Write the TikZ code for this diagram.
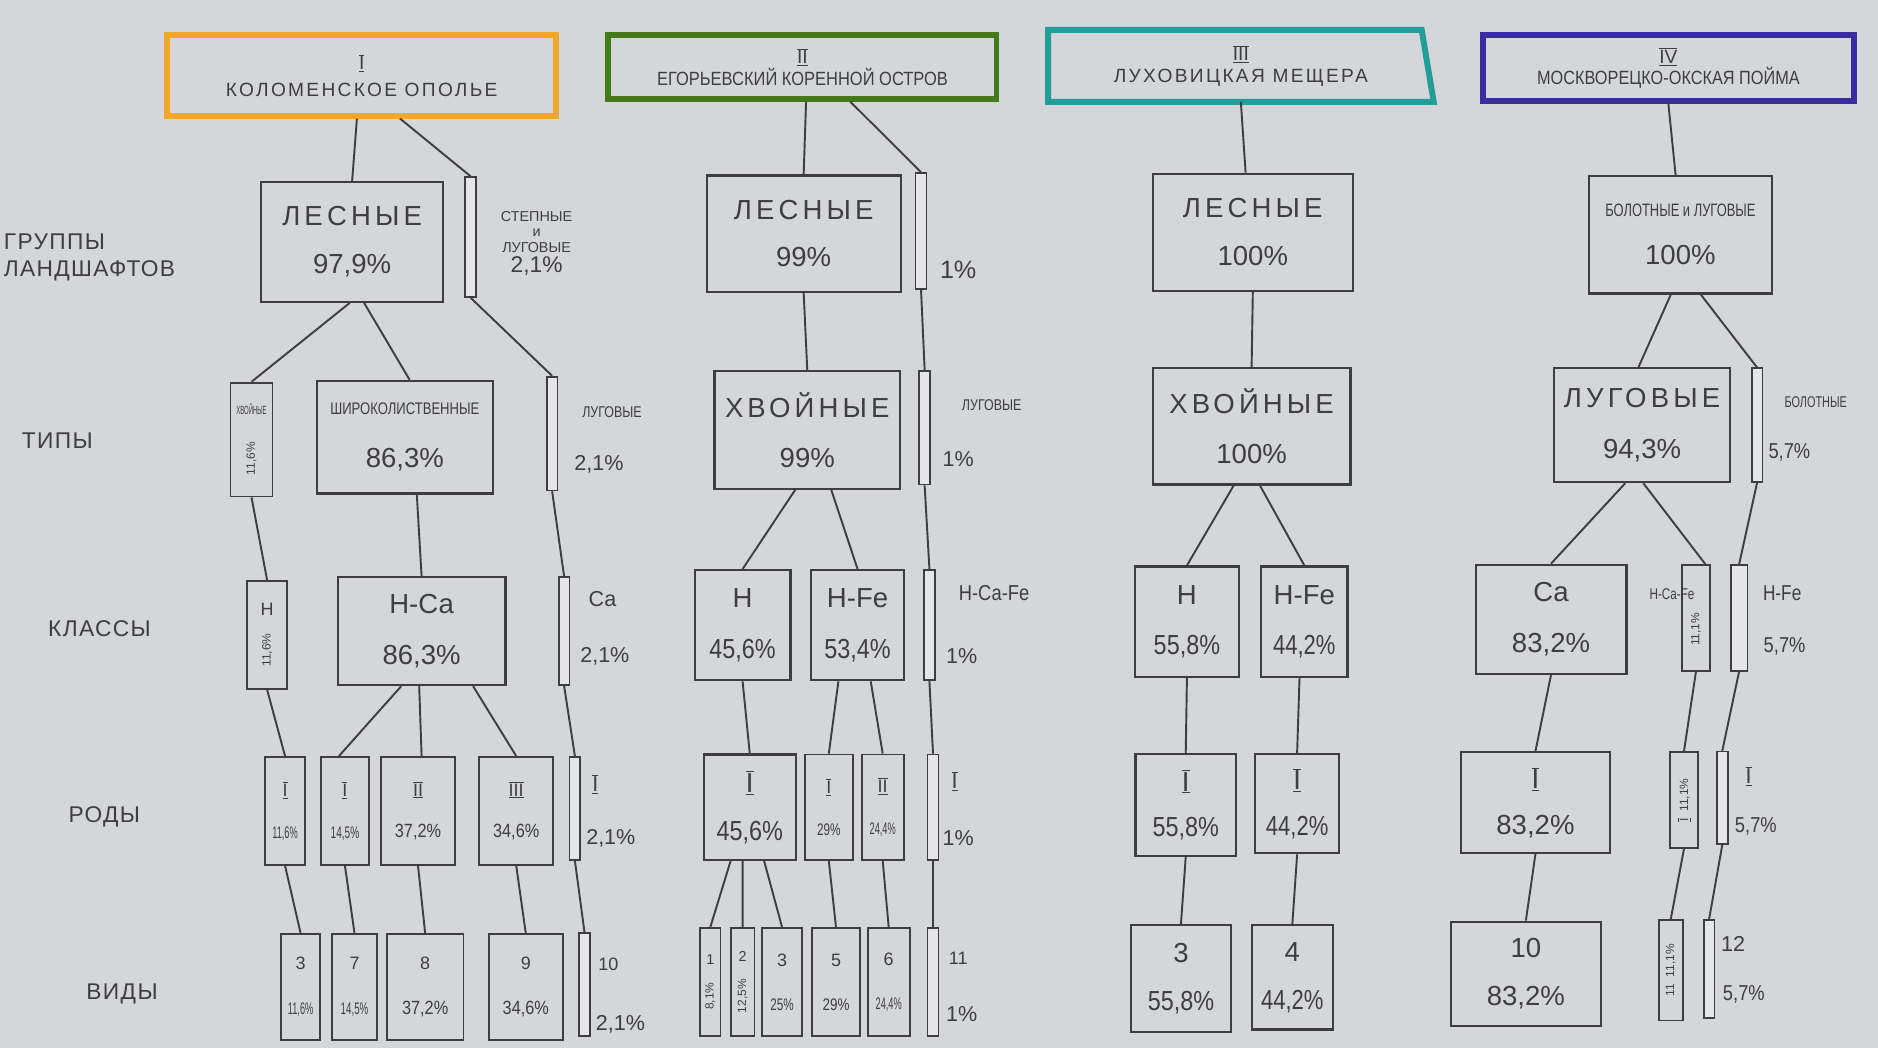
\documentclass[tikz,border=0pt]{standalone}
\usepackage{fontspec}
\setmainfont{Liberation Sans}
\usepackage{graphicx}
\definecolor{paper}{RGB}{213,214,217}
\definecolor{ink}{RGB}{62,62,66}
\definecolor{hOrange}{RGB}{242,166,42}
\definecolor{hGreen}{RGB}{66,122,28}
\definecolor{hTeal}{RGB}{34,158,152}
\definecolor{hBlue}{RGB}{56,44,160}
\newcommand\rim[1]{$\overline{\underline{\mbox{#1}}}$}
\newcommand\vtxt[1]{\rotatebox{90}{\fontsize{10}{11}\selectfont #1}}
\newcommand\spaced{\addfontfeature{LetterSpace=15}}
\newcommand\fsz[1]{\fontsize{#1}{#1}\selectfont}
\newcommand\sq[2]{\scalebox{#1}[1]{#2}}
\begin{document}
\begin{tikzpicture}[x=1pt, y=-1pt,
    box/.style={draw=ink, line width=1.8pt, inner sep=0pt, align=center, text=ink, font=\fontsize{23}{26}\selectfont},
    narrow/.style={draw=ink, line width=1.5pt, inner sep=0pt, align=center, text=ink, font=\fontsize{15}{17}\selectfont},
    bar/.style={draw=ink, line width=1.4pt, fill=paper!60!white, inner sep=0pt, minimum width=9pt},
    hdr/.style={line width=5pt, inner sep=0pt, align=center, text=ink, font=\fontsize{16}{18}\selectfont},
    lbl/.style={text=ink, inner sep=0pt, align=center, font=\fontsize{18}{20}\selectfont},
    row/.style={text=ink, anchor=west, align=left, inner sep=0pt, font=\fontsize{19}{23}\selectfont\addfontfeature{LetterSpace=6}},
    link/.style={draw=ink, line width=1.6pt}
]
\fill[paper] (0,0) rectangle (1568,875);

% row names
\node[row] (rgr) at (3,215) {ГРУППЫ\\ЛАНДШАФТОВ};
\node[row] (rti) at (18,368) {ТИПЫ};
\node[row] (rkl) at (40,525) {КЛАССЫ};
\node[row] (rro) at (57,682) {РОДЫ};
\node[row] (rvi) at (72,830) {ВИДЫ};

% I: Коломенское ополье
\node[hdr, draw=hOrange, minimum width=325pt, minimum height=67pt] (h1) at (302,63) {\rim{I}\\[4pt]{\addfontfeature{LetterSpace=12}КОЛОМЕНСКОЕ ОПОЛЬЕ}};
\node[box, minimum width=152pt, minimum height=100pt] (les1) at (294,202) {{\spaced ЛЕСНЫЕ}\\[14pt]97,9\%};
\node[bar, minimum height=100pt] (st1) at (393,198) {};
\node[lbl, font=\fontsize{12}{13}\selectfont] (st1t) at (448,203) {СТЕПНЫЕ\\и\\ЛУГОВЫЕ\\[2pt]{\fsz{19}2,1\%}};
\node[narrow, minimum width=35pt, minimum height=95pt] (xv1) at (210,367) {{\fsz{10}\sq{0.5}{ХВОЙНЫЕ}}\\[22pt]\vtxt{11,6\%}};
\node[box, minimum width=147pt, minimum height=94pt] (sh1) at (338,365) {{\fsz{14}\sq{0.78}{ШИРОКОЛИСТВЕННЫЕ}}\\[18pt]86,3\%};
\node[bar, minimum height=95pt] (lu1) at (461,362) {};
\node[lbl, font=\fontsize{13}{14}\selectfont] (lu1t) at (511,344) {\sq{0.8}{ЛУГОВЫЕ}};
\node[lbl] (lu1p) at (500,388) {2,1\%};
\node[narrow, minimum width=33pt, minimum height=90pt] (n1) at (223,530) {Н\\[14pt]\vtxt{11,6\%}};
\node[box, minimum width=140pt, minimum height=90pt] (nca1) at (352,527) {Н-Са\\[16pt]86,3\%};
\node[bar, minimum height=90pt] (ca1) at (471,527) {};
\node[lbl] (ca1t) at (503,500) {Са};
\node[lbl] (ca1p) at (505,548) {2,1\%};
\node[narrow, minimum width=33pt, minimum height=90pt] (r11) at (238,677) {\rim{I}\\[18pt]{\fsz{14}\sq{0.55}{11,6\%}}};
\node[narrow, minimum width=40pt, minimum height=90pt] (r12) at (288,677) {\rim{I}\\[18pt]{\fsz{14}\sq{0.6}{14,5\%}}};
\node[narrow, minimum width=62pt, minimum height=90pt] (r13) at (349,677) {\rim{II}\\[18pt]{\fsz{16}\sq{0.85}{37,2\%}}};
\node[narrow, minimum width=62pt, minimum height=90pt] (r14) at (431,677) {\rim{III}\\[18pt]{\fsz{16}\sq{0.85}{34,6\%}}};
\node[bar, minimum height=86pt] (r15) at (480,675) {};
\node[lbl] (r15t) at (497,655) {\rim{I}};
\node[lbl] (r15p) at (510,700) {2,1\%};
\node[narrow, minimum width=33pt, minimum height=88pt] (v13) at (251,824) {3\\[20pt]{\fsz{14}\sq{0.55}{11,6\%}}};
\node[narrow, minimum width=38pt, minimum height=88pt] (v17) at (296,824) {7\\[20pt]{\fsz{14}\sq{0.58}{14,5\%}}};
\node[narrow, minimum width=64pt, minimum height=88pt] (v18) at (355,824) {8\\[20pt]{\fsz{16}\sq{0.85}{37,2\%}}};
\node[narrow, minimum width=62pt, minimum height=88pt] (v19) at (439,824) {9\\[20pt]{\fsz{16}\sq{0.85}{34,6\%}}};
\node[bar, minimum height=86pt] (v110) at (488,822) {};
\node[lbl, font=\fontsize{15}{16}\selectfont] (v110t) at (508,805) {10};
\node[lbl] (v110p) at (518,855) {2,1\%};
\draw[link] ([xshift=-4pt]h1.south) -- (les1.north)
    ([xshift=32pt]h1.south) -- (st1.north)
    ([xshift=-2pt]les1.south) -- (xv1.north)
    ([xshift=10pt]les1.south) -- ([xshift=4pt]sh1.north)
    (st1.south) -- (lu1.north)
    (xv1.south) -- (n1.north)
    ([xshift=10pt]sh1.south) -- (nca1.north)
    (lu1.south) -- (ca1.north)
    (n1.south) -- (r11.north)
    ([xshift=-17pt]nca1.south) -- ([xshift=-5pt]r12.north)
    ([xshift=-2pt]nca1.south) -- ([xshift=3pt]r13.north)
    ([xshift=43pt]nca1.south) -- (r14.north)
    (ca1.south) -- (r15.north)
    (r11.south) -- (v13.north)
    (r12.south) -- (v17.north)
    (r13.south) -- (v18.north)
    (r14.south) -- (v19.north)
    (r15.south) -- (v110.north);

% II: Егорьевский коренной остров
\node[hdr, draw=hGreen, minimum width=324pt, minimum height=53pt] (h2) at (670,56) {\rim{II}\\{\sq{0.86}{ЕГОРЬЕВСКИЙ КОРЕННОЙ ОСТРОВ}}};
\node[box, minimum width=162pt, minimum height=97pt] (les2) at (671,195) {{\spaced ЛЕСНЫЕ}\\[14pt]99\%};
\node[bar, minimum height=97pt] (b21) at (769,193) {};
\node[lbl, font=\fontsize{21}{22}\selectfont] (b21p) at (800,225) {1\%};
\node[box, minimum width=155pt, minimum height=98pt] (xv2) at (674,359) {{\spaced ХВОЙНЫЕ}\\[16pt]99\%};
\node[bar, minimum height=95pt] (b22) at (772,357) {};
\node[lbl, font=\fontsize{13}{14}\selectfont] (b22t) at (828,338) {\sq{0.8}{ЛУГОВЫЕ}};
\node[lbl] (b22p) at (800,383) {1\%};
\node[box, minimum width=80pt, minimum height=92pt] (n2) at (620,522) {Н\\[16pt]\sq{0.85}{45,6\%}};
\node[box, minimum width=78pt, minimum height=92pt] (nfe2) at (716,522) {Н-Fe\\[16pt]\sq{0.85}{53,4\%}};
\node[bar, minimum height=92pt] (b23) at (776,522) {};
\node[lbl] (b23t) at (830,495) {\sq{0.85}{Н-Са-Fe}};
\node[lbl] (b23p) at (803,548) {1\%};
\node[box, minimum width=77pt, minimum height=88pt] (r21) at (626,674) {\rim{I}\\[14pt]\sq{0.85}{45,6\%}};
\node[narrow, minimum width=40pt, minimum height=88pt] (r22) at (692,674) {\rim{I}\\[18pt]{\fsz{14}\sq{0.7}{29\%}}};
\node[narrow, minimum width=35pt, minimum height=88pt] (r23) at (737,674) {\rim{II}\\[18pt]{\fsz{14}\sq{0.55}{24,4\%}}};
\node[bar, minimum height=88pt] (b24) at (779,674) {};
\node[lbl] (b24t) at (797,652) {\rim{I}};
\node[lbl] (b24p) at (800,700) {1\%};
\node[narrow, minimum width=17pt, minimum height=90pt] (v21) at (593,820) {{\fsz{12}1}\\[14pt]\vtxt{8,1\%}};
\node[narrow, minimum width=20pt, minimum height=90pt] (v22) at (620,820) {{\fsz{12}2}\\[14pt]\vtxt{12,5\%}};
\node[narrow, minimum width=33pt, minimum height=90pt] (v23) at (653,820) {3\\[20pt]{\fsz{14}\sq{0.7}{25\%}}};
\node[narrow, minimum width=40pt, minimum height=90pt] (v25) at (698,820) {5\\[20pt]{\fsz{14}\sq{0.8}{29\%}}};
\node[narrow, minimum width=35pt, minimum height=90pt] (v26) at (742,820) {6\\[20pt]{\fsz{14}\sq{0.55}{24,4\%}}};
\node[bar, minimum height=90pt] (b25) at (779,820) {};
\node[lbl, font=\fontsize{15}{16}\selectfont] (b25t) at (800,800) {11};
\node[lbl] (b25p) at (803,847) {1\%};
\draw[link] ([xshift=3pt]h2.south) -- (les2.north)
    ([xshift=40pt]h2.south) -- (b21.north)
    (les2.south) -- (xv2.north)
    (b21.south) -- (b22.north)
    ([xshift=-10pt]xv2.south) -- (n2.north)
    ([xshift=20pt]xv2.south) -- (nfe2.north)
    (b22.south) -- (b23.north)
    (n2.south) -- (r21.north)
    ([xshift=-16pt]nfe2.south) -- (r22.north)
    ([xshift=11pt]nfe2.south) -- (r23.north)
    (b23.south) -- (b24.north)
    ([xshift=-16pt]r21.south) -- (v21.north)
    ([xshift=-6pt]r21.south) -- (v22.north)
    ([xshift=12pt]r21.south) -- (v23.north)
    (r22.south) -- (v25.north)
    (r23.south) -- (v26.north)
    (b24.south) -- (b25.north);

% III: Луховицкая мещера
\node[hdr, minimum width=317pt, minimum height=55pt] (h3) at (1036,55) {\rim{III}\\{\addfontfeature{LetterSpace=12}ЛУХОВИЦКАЯ МЕЩЕРА}};
\draw[hTeal, line width=5pt] (h3.north west) -- ([xshift=-10pt]h3.north east) -- (h3.south east) -- (h3.south west) -- cycle;
\node[box, minimum width=167pt, minimum height=98pt] (les3) at (1046,194) {{\spaced ЛЕСНЫЕ}\\[14pt]100\%};
\node[box, minimum width=165pt, minimum height=97pt] (xv3) at (1045,356) {{\spaced ХВОЙНЫЕ}\\[16pt]100\%};
\node[box, minimum width=87pt, minimum height=92pt] (n3) at (991,519) {Н\\[16pt]\sq{0.85}{55,8\%}};
\node[box, minimum width=72pt, minimum height=92pt] (nfe3) at (1089,519) {Н-Fe\\[16pt]\sq{0.8}{44,2\%}};
\node[box, minimum width=84pt, minimum height=85pt] (r31) at (990,672) {\rim{I}\\[12pt]\sq{0.85}{55,8\%}};
\node[box, minimum width=70pt, minimum height=83pt] (r32) at (1083,671) {\rim{I}\\[12pt]\sq{0.8}{44,2\%}};
\node[box, minimum width=83pt, minimum height=89pt] (v33) at (986,817) {3\\[14pt]\sq{0.85}{55,8\%}};
\node[box, minimum width=68pt, minimum height=87pt] (v34) at (1079,816) {4\\[14pt]\sq{0.8}{44,2\%}};
\draw[link] (h3.south) -- ([xshift=-6pt]les3.north)
    (les3.south) -- (xv3.north)
    ([xshift=-15pt]xv3.south) -- (n3.north)
    ([xshift=7pt]xv3.south) -- (nfe3.north)
    (n3.south) -- (r31.north)
    ([xshift=-4pt]nfe3.south) -- (r32.north)
    (r31.south) -- (v33.north)
    (r32.south) -- (v34.north);

% IV: Москворецко-окская пойма
\node[hdr, draw=hBlue, minimum width=310pt, minimum height=55pt] (h4) at (1393,57) {\rim{IV}\\{\sq{0.85}{МОСКВОРЕЦКО-ОКСКАЯ ПОЙМА}}};
\node[box, minimum width=153pt, minimum height=98pt] (bol4) at (1403,196) {{\fsz{15}\sq{0.72}{БОЛОТНЫЕ и ЛУГОВЫЕ}}\\[14pt]100\%};
\node[box, minimum width=147pt, minimum height=95pt] (lu4) at (1371,355) {{\spaced ЛУГОВЫЕ}\\[16pt]94,3\%};
\node[bar, minimum height=95pt] (b41) at (1467,355) {};
\node[lbl, font=\fontsize{13}{14}\selectfont] (b41t) at (1516,336) {\sq{0.7}{БОЛОТНЫЕ}};
\node[lbl] (b41p) at (1494,378) {\sq{0.85}{5,7\%}};
\node[box, minimum width=126pt, minimum height=91pt] (ca4) at (1295,517) {Са\\[16pt]83,2\%};
\node[narrow, minimum width=23pt, minimum height=88pt] (ncf4) at (1416,516) {\\[18pt]\vtxt{11,1\%}};
\node[lbl, font=\fontsize{13}{14}\selectfont] (ncf4t) at (1396,496) {\sq{0.75}{Н-Са-Fe}};
\node[bar, minimum width=14pt, minimum height=88pt] (nfe4) at (1452,516) {};
\node[lbl] (nfe4t) at (1488,495) {\sq{0.8}{Н-Fe}};
\node[lbl] (nfe4p) at (1490,540) {\sq{0.85}{5,7\%}};
\node[box, minimum width=125pt, minimum height=84pt] (r41) at (1282,670) {\rim{I}\\[12pt]83,2\%};
\node[narrow, minimum width=23pt, minimum height=80pt] (r42) at (1406,668) {\vtxt{\rim{I}\ \ 11,1\%}};
\node[bar, minimum height=77pt] (r43) at (1438,666) {};
\node[lbl] (r43t) at (1460,648) {\rim{I}};
\node[lbl] (r43p) at (1466,690) {\sq{0.85}{5,7\%}};
\node[box, minimum width=125pt, minimum height=87pt] (v410) at (1274,813) {10\\[14pt]83,2\%};
\node[narrow, minimum width=20pt, minimum height=84pt] (v411) at (1395,810) {\vtxt{11\ \ 11,1\%}};
\node[bar, minimum height=82pt] (v412) at (1427,809) {};
\node[lbl] (v412t) at (1447,788) {12};
\node[lbl] (v412p) at (1456,830) {\sq{0.85}{5,7\%}};
\draw[link] (h4.south) -- ([xshift=-4pt]bol4.north)
    ([xshift=-8pt]bol4.south) -- ([xshift=-3pt]lu4.north)
    ([xshift=17pt]bol4.south) -- (b41.north)
    ([xshift=-14pt]lu4.south) -- (ca4.north)
    ([xshift=1pt]lu4.south) -- ([xshift=8pt]ncf4.north)
    (b41.south) -- (nfe4.north)
    (ca4.south) -- (r41.north)
    (ncf4.south) -- (r42.north)
    (nfe4.south) -- (r43.north)
    (r41.south) -- (v410.north)
    (r42.south) -- (v411.north)
    (r43.south) -- (v412.north);
\end{tikzpicture}
\end{document}
